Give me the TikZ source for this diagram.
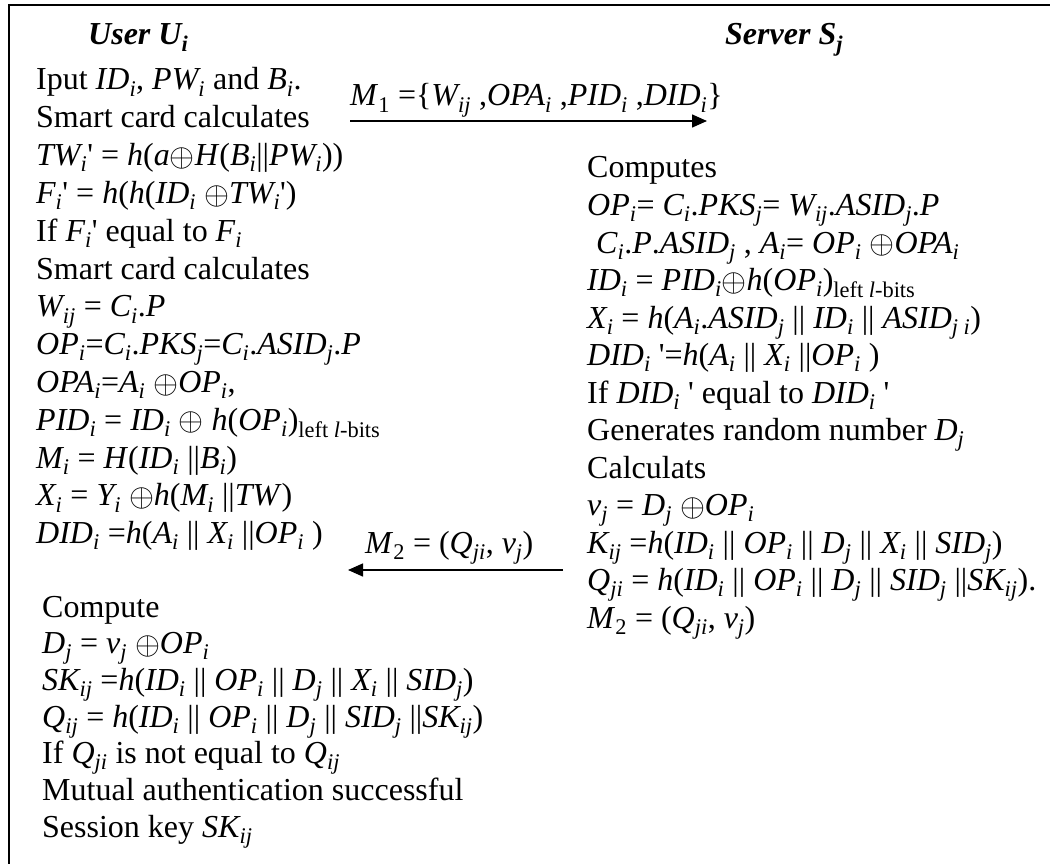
\documentclass[tikz,border=0pt]{standalone}
\usepackage{graphicx}
\usepackage{fontspec}
\setmainfont{Liberation Serif}
\usetikzlibrary{arrows.meta}
\newcommand\V[2]{\textit{#1\textsubscript{#2}}}
\newcommand\I[1]{\textit{#1}}
\newcommand\ap{\textquotesingle}
\newcommand\xo{\raisebox{-0.02em}{\scalebox{1.29}{$\oplus$}}}
\newcommand\lbits{\textsubscript{left \textit{l}-bits}}
\tikzset{
  txt/.style={anchor=base west, inner sep=0pt, font=\fontsize{32}{38}\selectfont},
  hdr/.style={anchor=base west, inner sep=0pt, font=\fontsize{32}{38}\selectfont\bfseries\itshape},
  msg/.style={-{Triangle[length=15pt,width=13pt]}, line width=1.5pt},
  frame/.style={line width=2.5pt}
}
\begin{document}
\begin{tikzpicture}[x=1pt,y=-1pt]
\useasboundingbox (0,0) rectangle (1050,864);
\fill[white] (0,0) rectangle (1050,864);
\draw[frame] (9,864) -- (9,5) -- (1050,5);
% headers
\node[hdr] (hu) at (88,45) {User U\textsubscript{i}};
\node[hdr] (hs) at (725,45) {Server S\textsubscript{j}};
% user upper column
\node[txt] (u1) at (36,90) {Iput \V{ID}{i}, \V{PW}{i} and \V{B}{i}.};
\node[txt] (u2) at (36,127.8) {Smart card calculates};
\node[txt] (u3) at (36,165.6) {\V{TW}{i}\ap{} = \I{h}(\I{a}\xo\I{H}(\V{B}{i}||\V{PW}{i}))};
\node[txt] (u4) at (36,203.4) {\V{F}{i}\ap{} = \I{h}(\I{h}(\V{ID}{i} \xo\V{TW}{i}\ap)};
\node[txt] (u5) at (36,241.2) {If \V{F}{i}\ap{} equal to \V{F}{i}};
\node[txt] (u6) at (36,279) {Smart card calculates};
\node[txt] (u7) at (36,316.8) {\V{W}{ij} = \V{C}{i}.\I{P}};
\node[txt] (u8) at (36,354.6) {\V{OP}{i}=\V{C}{i}.\V{PKS}{j}=\V{C}{i}.\V{ASID}{j}.\I{P}};
\node[txt] (u9) at (36,392.4) {\V{OPA}{i}=\V{A}{i} \xo\V{OP}{i},};
\node[txt] (u10) at (36,430.2) {\V{PID}{i} = \V{ID}{i} \xo{} \I{h}(\V{OP}{i})\lbits};
\node[txt] (u11) at (36,468) {\V{M}{i} = \I{H}(\V{ID}{i} ||\V{B}{i})};
\node[txt] (u12) at (36,505.8) {\V{X}{i} = \V{Y}{i} \xo\I{h}(\V{M}{i} ||\I{TW})};
\node[txt] (u13) at (36,543.6) {\V{DID}{i} =\I{h}(\V{A}{i} || \V{X}{i} ||\V{OP}{i} )};
% user lower column
\node[txt] (l1) at (42,617) {Compute};
\node[txt] (l2) at (42,653.7) {\V{D}{j} = \V{v}{j} \xo\V{OP}{i}};
\node[txt] (l3) at (42,690.3) {\V{SK}{ij} =\I{h}(\V{ID}{i} || \V{OP}{i} || \V{D}{j} || \V{X}{i} || \V{SID}{j})};
\node[txt] (l4) at (42,727) {\V{Q}{ij} = \I{h}(\V{ID}{i} || \V{OP}{i} || \V{D}{j} || \V{SID}{j} ||\V{SK}{ij})};
\node[txt] (l5) at (42,763.7) {If \V{Q}{ji} is not equal to \V{Q}{ij}};
\node[txt] (l6) at (42,800.3) {Mutual authentication successful};
\node[txt] (l7) at (42,837) {Session key \V{SK}{ij}};
% server column
\node[txt] (s1) at (587,178) {Computes};
\node[txt] (s2) at (587,215.5) {\V{OP}{i}= \V{C}{i}.\V{PKS}{j}= \V{W}{ij}.\V{ASID}{j}.\I{P}};
\node[txt] (s3) at (596,253) {\V{C}{i}.\I{P}.\V{ASID}{j} , \V{A}{i}= \V{OP}{i} \xo\V{OPA}{i}};
\node[txt] (s4) at (587,290.5) {\V{ID}{i} = \V{PID}{i}\xo\I{h}(\V{OP}{i})\lbits};
\node[txt] (s5) at (587,328) {\V{X}{i} = \I{h}(\V{A}{i}.\V{ASID}{j} || \V{ID}{i} || \V{ASID}{j i})};
\node[txt] (s6) at (587,365.5) {\V{DID}{i} \ap=\I{h}(\V{A}{i} || \V{X}{i} ||\V{OP}{i} )};
\node[txt] (s7) at (587,403) {If \V{DID}{i} \ap{} equal to \V{DID}{i} \ap};
\node[txt] (s8) at (587,440.5) {Generates random number \V{D}{j}};
\node[txt] (s9) at (587,478) {Calculats};
\node[txt] (s10) at (587,515.5) {\V{v}{j} = \V{D}{j} \xo\V{OP}{i}};
\node[txt] (s11) at (587,553) {\V{K}{ij} =\I{h}(\V{ID}{i} || \V{OP}{i} || \V{D}{j} || \V{X}{i} || \V{SID}{j})};
\node[txt] (s12) at (587,590.5) {\V{Q}{ji} = \I{h}(\V{ID}{i} || \V{OP}{i} || \V{D}{j} || \V{SID}{j} ||\V{SK}{ij}).};
\node[txt] (s13) at (587,628) {\I{M}\textsubscript{2} = (\V{Q}{ji}, \V{v}{j})};
% messages
\node[txt] (m1) at (350,106) {\I{M}\textsubscript{1} =\{\V{W}{ij} ,\V{OPA}{i} ,\V{PID}{i} ,\V{DID}{i}\}};
\coordinate (m1a) at (350,121);
\coordinate (m1b) at (707,121);
\draw[msg] (m1a) -- (m1b);
\node[txt] (m2) at (365,553) {\I{M}\textsubscript{2} = (\V{Q}{ji}, \V{v}{j})};
\coordinate (m2a) at (563,570);
\coordinate (m2b) at (348,570);
\draw[msg] (m2a) -- (m2b);
\end{tikzpicture}
\end{document}
